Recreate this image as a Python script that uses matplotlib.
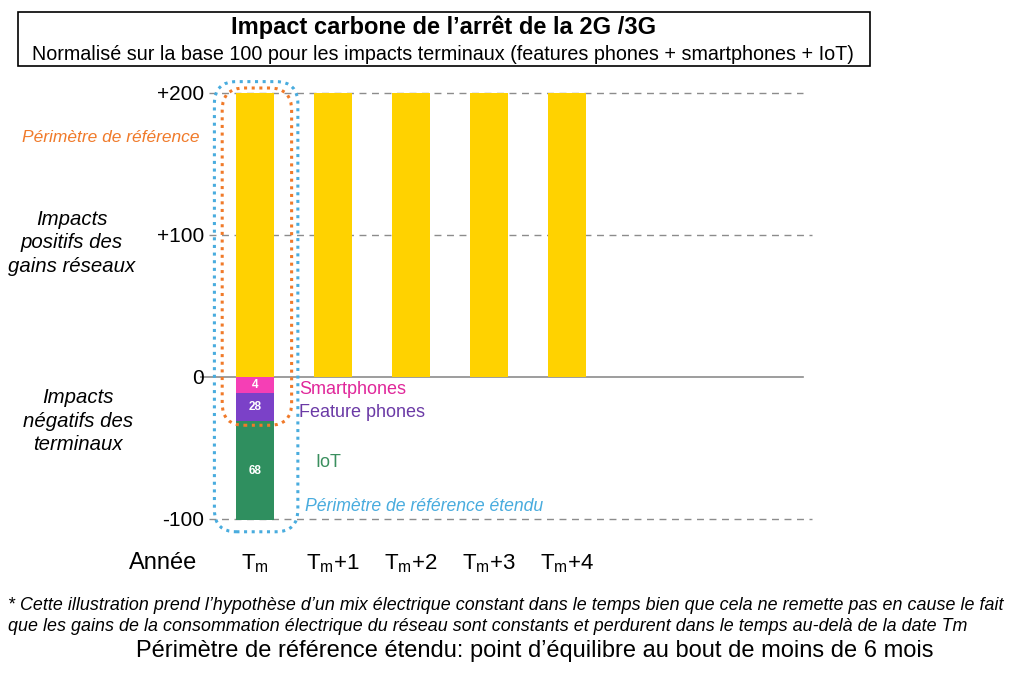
import matplotlib
matplotlib.use("Agg")
import matplotlib.pyplot as plt
from matplotlib.patches import FancyBboxPatch, Rectangle
from matplotlib.transforms import IdentityTransform

plt.rcParams['font.family'] = ['Liberation Sans', 'DejaVu Sans']
plt.rcParams['mathtext.fontset'] = 'custom'
plt.rcParams['mathtext.rm'] = 'Liberation Sans'
plt.rcParams['mathtext.it'] = 'Liberation Sans:italic'
NARROW = ['Liberation Sans Narrow', 'Liberation Sans', 'DejaVu Sans']

# data
years = ["T$_\\mathrm{m}$", "T$_\\mathrm{m}$+1", "T$_\\mathrm{m}$+2", "T$_\\mathrm{m}$+3", "T$_\\mathrm{m}$+4"]
gains = [200, 200, 200, 200, 200]
neg_names = ["Smartphones", "Feature phones", "IoT"]
neg_heights = [11, 20, 70]          # drawn heights as in the picture
neg_labels = ["4", "28", "68"]      # printed values
yticks = [-100, 0, 100, 200]
ytick_labels = ["-100", "0", "+100", "+200"]

yellow = "#FFD200"
neg_colors = ["#F53FB5", "#7B41C8", "#2F8F5F"]
name_colors = ["#E0279A", "#6B3AA6", "#3A8F5E"]
orange = "#F07A2A"
blue = "#49ACDE"

fig = plt.figure(figsize=(10.12, 6.73), dpi=100)
ax = fig.add_axes([0.1976, 0.1972, 0.6077, 0.6963])
ax.set_xlim(-0.705, 7.18)
ax.set_ylim(-115, 215)
for s in ax.spines.values():
    s.set_visible(False)

xs = list(range(len(years)))
w = 0.487
ax.bar(xs, gains, width=w, color=yellow, zorder=2)

bottom = 0
for h, c, lab in zip(neg_heights, neg_colors, neg_labels):
    ax.bar(xs[0], -h, bottom=bottom, width=w, color=c, zorder=2)
    ax.text(xs[0], bottom - h / 2, lab, ha='center', va='center', color='white',
            fontsize=8.5, fontweight='bold', zorder=3)
    bottom -= h

for y in [200, 100, -100]:
    ax.axhline(y, xmin=0.015, xmax=0.995 if y != 200 else 0.98, color='#8c8c8c',
               linestyle=(0, (5, 4)), linewidth=1, zorder=1)
ax.axhline(0, xmin=0, xmax=0.98, color='#8c8c8c', linewidth=1.2, zorder=1)

ax.set_yticks(yticks)
ax.set_yticklabels(ytick_labels, fontsize=15)
ax.tick_params(axis='y', length=0, pad=-3)
ax.set_xticks(xs)
ax.set_xticklabels(years, fontsize=16)
ax.tick_params(axis='x', length=0, pad=9)
ax.text(-1.18, -131, "Année", fontsize=17, ha='center', va='center')

# labels for negative segments
ax.text(0.57, -9, neg_names[0], color=name_colors[0], fontsize=13, va='center')
ax.text(0.57, -25, neg_names[1], color=name_colors[1], fontsize=13, va='center')
ax.text(0.78, -60, neg_names[2], color=name_colors[2], fontsize=13, va='center')
ax.text(0.64, -91, "Périmètre de référence étendu", color=blue, fontsize=12.7,
        style='italic', va='center')

# left annotations
fig.text(0.109, 0.796, "Périmètre de référence", color=orange, fontsize=12.5,
         style='italic', ha='center', va='center')
fig.text(0.071, 0.639, "Impacts\npositifs des\ngains réseaux", fontsize=14.7,
         style='italic', ha='center', va='center', linespacing=1.3)
fig.text(0.077, 0.374, "Impacts\nnégatifs des\nterminaux", fontsize=14.7,
         style='italic', ha='center', va='center', linespacing=1.3)

# dotted perimeter boxes (derived from bar 0 position)
fig.canvas.draw()
def disp(x, y):
    return ax.transData.transform((x, y))

x0, y0 = disp(xs[0] - 0.42, -34)
x1, y1 = disp(xs[0] + 0.47, 203.5)
fig.patches.append(FancyBboxPatch((x0, y0), x1 - x0, y1 - y0,
                   boxstyle="round,pad=0,rounding_size=22", transform=IdentityTransform(),
                   fill=False, edgecolor=orange, linestyle=(0, (1, 1.5)), linewidth=2.2,
                   zorder=5))
x0, y0 = disp(xs[0] - 0.52, -109)
x1, y1 = disp(xs[0] + 0.55, 208)
fig.patches.append(FancyBboxPatch((x0, y0), x1 - x0, y1 - y0,
                   boxstyle="round,pad=0,rounding_size=22", transform=IdentityTransform(),
                   fill=False, edgecolor=blue, linestyle=(0, (1, 1.5)), linewidth=2.2,
                   zorder=5))

# title box
fig.patches.append(Rectangle((0.018, 0.902), 0.842, 0.080, transform=fig.transFigure,
                             fill=False, edgecolor='black', linewidth=1.2))
fig.text(0.438, 0.960, "Impact carbone de l’arrêt de la 2G /3G", family=NARROW,
         fontsize=17, fontweight='bold', ha='center', va='center')
fig.text(0.438, 0.919, "Normalisé sur la base 100 pour les impacts terminaux (features phones + smartphones + IoT)",
         family=NARROW, fontsize=14.2, ha='center', va='center')

# footnotes
fig.text(0.008, 0.101, "* Cette illustration prend l’hypothèse d’un mix électrique constant dans le temps bien que cela ne remette pas en cause le fait",
         family=NARROW, fontsize=12.9, style='italic', ha='left', va='center')
fig.text(0.008, 0.069, "que les gains de la consommation électrique du réseau sont constants et perdurent dans le temps au-delà de la date Tm",
         family=NARROW, fontsize=12.9, style='italic', ha='left', va='center')
fig.text(0.528, 0.032, "Périmètre de référence étendu: point d’équilibre au bout de moins de 6 mois",
         family=NARROW, fontsize=17, ha='center', va='center')

fig.savefig("out.png", dpi=100)
